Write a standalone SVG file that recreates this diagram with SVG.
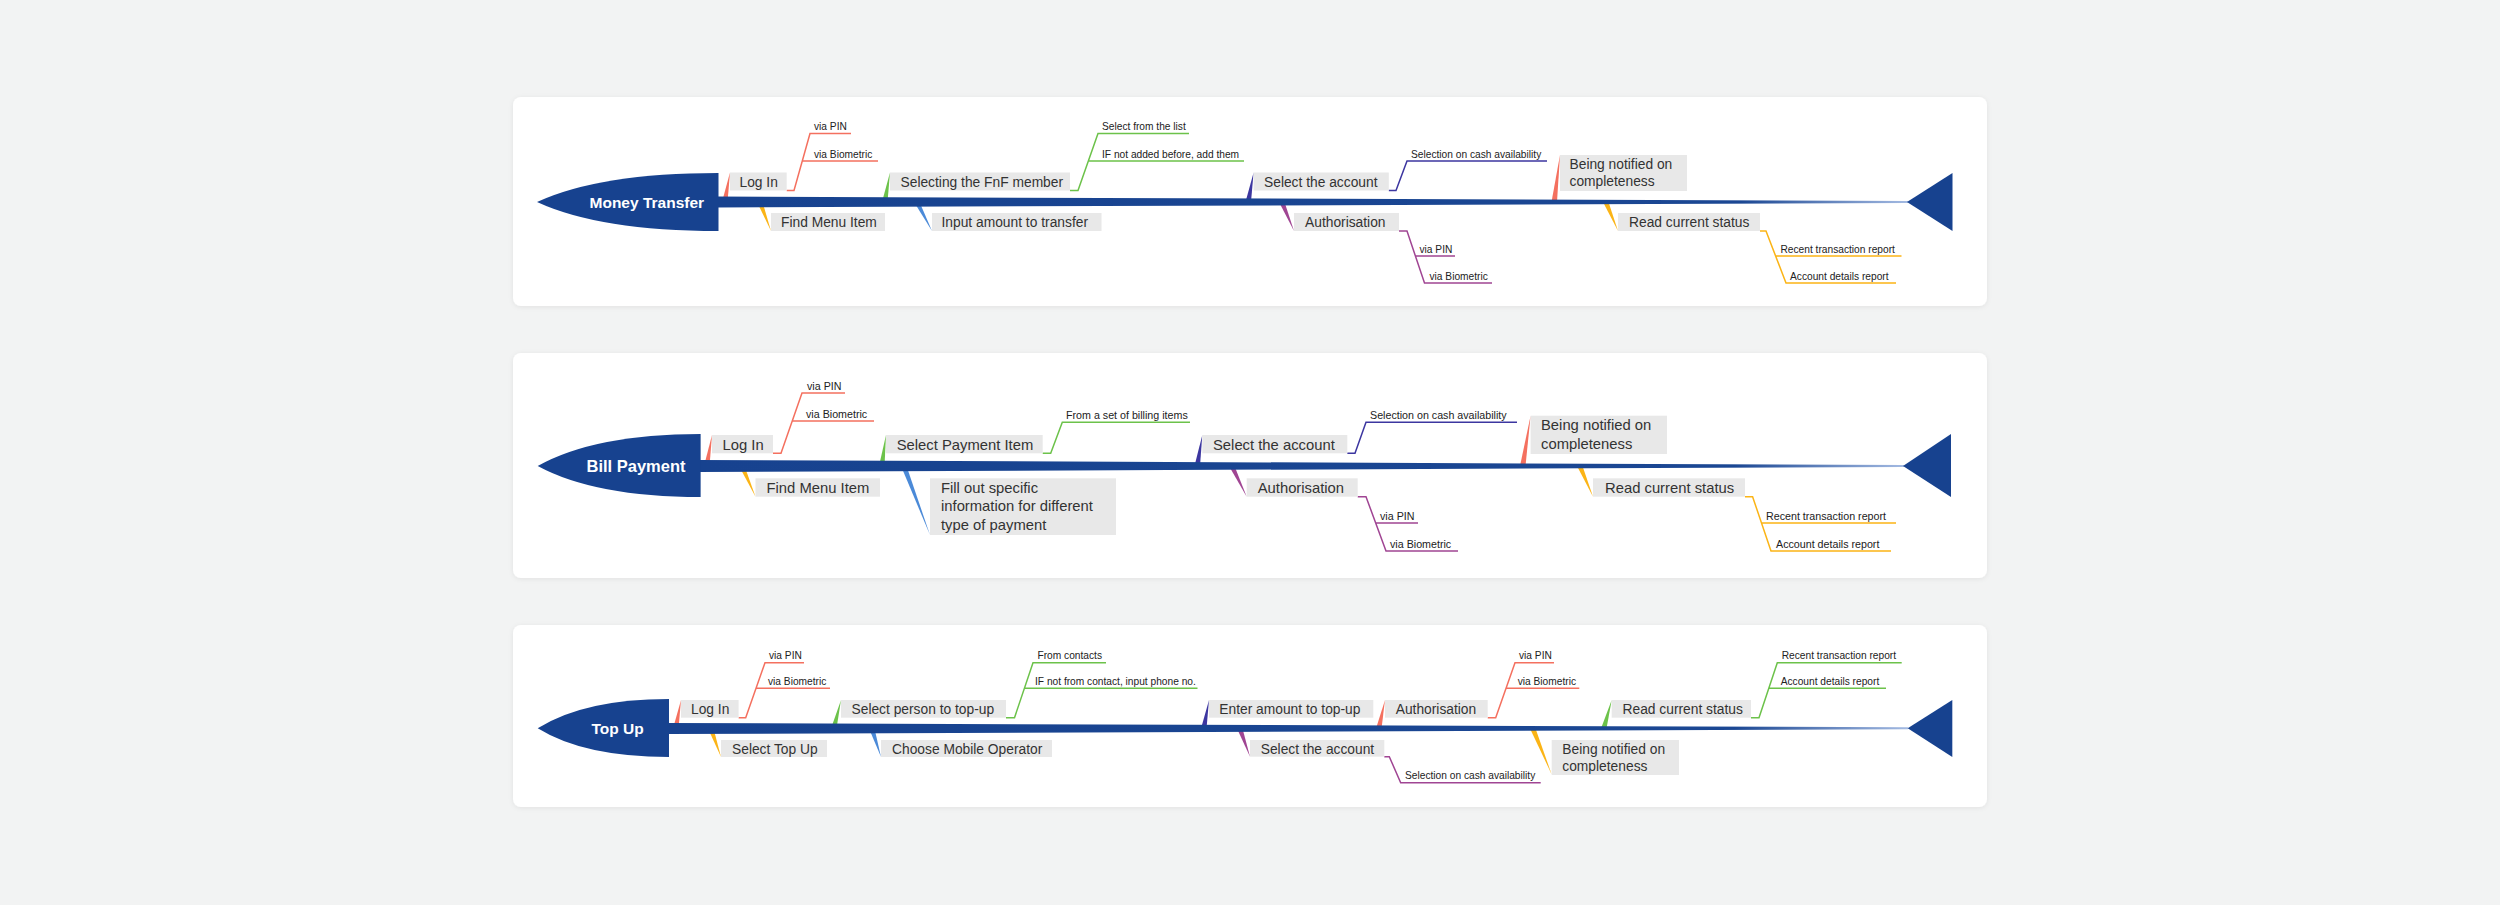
<svg xmlns="http://www.w3.org/2000/svg" width="2500" height="905" viewBox="0 0 2500 905">
<style>
.bg{fill:#f2f3f3}
.card{fill:#ffffff}
.box{fill:#e8e8e8}
.head{fill:#17428f}
.hl{font-family:"Liberation Sans",Arial,sans-serif;font-weight:bold;fill:#ffffff;text-anchor:middle}
.lbl{font-family:"Liberation Sans",Arial,sans-serif;font-size:13.8px;fill:#333333}
.sub{font-family:"Liberation Sans",Arial,sans-serif;font-size:10.2px;fill:#222222}
#card2 .lbl{font-size:14.8px}
#card2 .sub{font-size:10.7px}
.ln{fill:none;stroke-width:1.5;stroke-linejoin:miter}
.sR{stroke:#f4705f}.fR{fill:#f4705f}
.sY{stroke:#fbb416}.fY{fill:#fbb416}
.sG{stroke:#6cc24a}.fG{fill:#6cc24a}
.sB{stroke:#4b8ad8}.fB{fill:#4b8ad8}
.sI{stroke:#3c36a0}.fI{fill:#3c36a0}
.sP{stroke:#a04593}.fP{fill:#a04593}
</style>
<defs>
<linearGradient id="spineGrad" x1="0" y1="0" x2="1" y2="0">
<stop offset="0" stop-color="#17428f"/>
<stop offset="0.86" stop-color="#1b4793"/>
<stop offset="1" stop-color="#a3bae2"/>
</linearGradient>
<filter id="sh" x="-2%" y="-10%" width="104%" height="125%">
<feDropShadow dx="0" dy="1" stdDeviation="2.5" flood-color="#000000" flood-opacity="0.07"/>
</filter>
<clipPath id="clipRT"><rect x="1700" y="640" width="198" height="30"/></clipPath>
</defs>
<rect class="bg" x="0" y="0" width="2500" height="905"/>

<!-- ================= CARD 1 ================= -->
<g id="card1">
<rect class="card" x="513" y="97" width="1474" height="209" rx="8" filter="url(#sh)"/>
<g id="c1-connectors">
<polygon class="fR" points="722,202 727.5,202 730,172.5"/>
<polygon class="fG" points="882,202 887.5,202 890,172.5"/>
<polygon class="fI" points="1245.5,202 1251,202 1253.6,172.5"/>
<polygon class="fR" points="1551.5,202 1557,202 1560,155"/>
<polygon class="fY" points="757,202 762.5,202 771,231"/>
<polygon class="fB" points="914,202 919.5,202 932,231"/>
<polygon class="fP" points="1279,202 1284.5,202 1294,231"/>
<polygon class="fY" points="1603,202 1608.5,202 1618,231"/>
<path class="ln sR" d="M786.7,190.5 H794 L810,133.5 H851 M802.2,161 H878"/>
<path class="ln sG" d="M1070,190.5 H1078 L1098,133.5 H1189 M1088.4,161 H1244"/>
<path class="ln sI" d="M1388.8,190.5 H1396 L1407,161 H1547"/>
<path class="ln sP" d="M1399,231 H1407 L1424.5,283 H1492 M1415.4,256 H1455"/>
<path class="ln sY" d="M1760,231 H1766 L1786,283 H1896 M1775.6,256 H1901.5"/>
</g>
<g id="c1-spine">
<polygon fill="url(#spineGrad)" points="716,196.5 1908,201 1908,203 716,207.5"/>
<polygon class="head" points="1907,202 1952.5,173 1952.5,231"/>
</g>
<g id="c1-head">
<path class="head" d="M537,202 Q600,173 718.5,173 V231 Q600,231 537,202 Z"/>
<text class="hl" x="646.8" y="208" font-size="15.5">Money Transfer</text>
</g>
<g id="c1-login"><rect class="box" x="730" y="172.5" width="56.7" height="18"/><text class="lbl" x="739.5" y="186.5">Log In</text></g>
<g id="c1-login-pin"><text class="sub" x="814" y="130">via PIN</text></g>
<g id="c1-login-bio"><text class="sub" x="814" y="157.5">via Biometric</text></g>
<g id="c1-findmenu"><rect class="box" x="771" y="213" width="114" height="18"/><text class="lbl" x="781" y="227">Find Menu Item</text></g>
<g id="c1-fnf"><rect class="box" x="890" y="172.5" width="180" height="18"/><text class="lbl" x="900.5" y="186.5">Selecting the FnF member</text></g>
<g id="c1-fnf-list"><text class="sub" x="1102" y="130">Select from the list</text></g>
<g id="c1-fnf-add"><text class="sub" x="1102" y="157.5">IF not added before, add them</text></g>
<g id="c1-amount"><rect class="box" x="932" y="213" width="169.5" height="18"/><text class="lbl" x="941.5" y="227">Input amount to transfer</text></g>
<g id="c1-account"><rect class="box" x="1253.6" y="172.5" width="135.2" height="18"/><text class="lbl" x="1264" y="186.5">Select the account</text></g>
<g id="c1-account-cash"><text class="sub" x="1411" y="157.5">Selection on cash availability</text></g>
<g id="c1-auth"><rect class="box" x="1294" y="213" width="105" height="18"/><text class="lbl" x="1305" y="227">Authorisation</text></g>
<g id="c1-auth-pin"><text class="sub" x="1419.5" y="252.5">via PIN</text></g>
<g id="c1-auth-bio"><text class="sub" x="1429.5" y="279.5">via Biometric</text></g>
<g id="c1-notified"><rect class="box" x="1560" y="155" width="127" height="36"/><text class="lbl" x="1569.5" y="168.5">Being notified on</text><text class="lbl" x="1569.5" y="186">completeness</text></g>
<g id="c1-status"><rect class="box" x="1618" y="213" width="142" height="18"/><text class="lbl" x="1629" y="227">Read current status</text></g>
<g id="c1-status-recent"><text class="sub" x="1780.5" y="252.5">Recent transaction report</text></g>
<g id="c1-status-account"><text class="sub" x="1790" y="279.5">Account details report</text></g>
</g>

<!-- ================= CARD 2 ================= -->
<g id="card2">
<rect class="card" x="513" y="353" width="1474" height="225" rx="8" filter="url(#sh)"/>
<g id="c2-connectors">
<polygon class="fR" points="704,466 709.5,466 712,435"/>
<polygon class="fG" points="879,466 884.5,466 886,435"/>
<polygon class="fI" points="1194.5,466 1200,466 1202.3,435"/>
<polygon class="fR" points="1520,466 1525.5,466 1530.6,415.7"/>
<polygon class="fY" points="739,466 744.5,466 755.5,496.7"/>
<polygon class="fB" points="901,466 906.5,466 930,535"/>
<polygon class="fP" points="1229,466 1234.5,466 1246.7,496.7"/>
<polygon class="fY" points="1577,466 1582.5,466 1593,496.7"/>
<path class="ln sR" d="M773,453.3 H781 L802,393 H845 M792.3,421 H874"/>
<path class="ln sG" d="M1042.7,453.3 H1050.7 L1062.3,422.3 H1190"/>
<path class="ln sI" d="M1347.3,453.3 H1355 L1366,422.3 H1517"/>
<path class="ln sP" d="M1357.7,496.7 H1366 L1386,551 H1458 M1375.7,523 H1418"/>
<path class="ln sY" d="M1745,496.7 H1752.6 L1771,551 H1891 M1761.5,523 H1896"/>
</g>
<g id="c2-spine">
<polygon fill="url(#spineGrad)" points="698,460 1904,465 1904,467 698,472"/>
<polygon class="head" points="1903,466 1951,434 1951,497"/>
</g>
<g id="c2-head">
<path class="head" d="M537.7,466 Q595,434 700.6,434 V497 Q595,497 537.7,466 Z"/>
<text class="hl" x="636" y="472" font-size="16.5">Bill Payment</text>
</g>
<g id="c2-login"><rect class="box" x="712" y="435" width="61" height="18.3"/><text class="lbl" x="722.5" y="450">Log In</text></g>
<g id="c2-login-pin"><text class="sub" x="807" y="389.5">via PIN</text></g>
<g id="c2-login-bio"><text class="sub" x="806" y="417.5">via Biometric</text></g>
<g id="c2-findmenu"><rect class="box" x="755.5" y="478.3" width="124.5" height="18.4"/><text class="lbl" x="766.5" y="493.3">Find Menu Item</text></g>
<g id="c2-payitem"><rect class="box" x="886" y="435" width="156.7" height="18.3"/><text class="lbl" x="896.7" y="450">Select Payment Item</text></g>
<g id="c2-payitem-billing"><text class="sub" x="1066" y="418.8">From a set of billing items</text></g>
<g id="c2-fillout"><rect class="box" x="930" y="478.3" width="186" height="56.7"/><text class="lbl" x="941" y="492.5">Fill out specific</text><text class="lbl" x="941" y="511">information for different</text><text class="lbl" x="941" y="529.5">type of payment</text></g>
<g id="c2-account"><rect class="box" x="1202.3" y="435" width="145" height="18.3"/><text class="lbl" x="1213" y="450">Select the account</text></g>
<g id="c2-account-cash"><text class="sub" x="1370" y="418.8">Selection on cash availability</text></g>
<g id="c2-auth"><rect class="box" x="1246.7" y="478.3" width="111" height="18.4"/><text class="lbl" x="1257.7" y="493.3">Authorisation</text></g>
<g id="c2-auth-pin"><text class="sub" x="1380" y="519.5">via PIN</text></g>
<g id="c2-auth-bio"><text class="sub" x="1390" y="547.5">via Biometric</text></g>
<g id="c2-notified"><rect class="box" x="1530.6" y="415.7" width="136.4" height="38.3"/><text class="lbl" x="1541" y="430">Being notified on</text><text class="lbl" x="1541" y="448.5">completeness</text></g>
<g id="c2-status"><rect class="box" x="1593" y="478.3" width="152" height="18.4"/><text class="lbl" x="1605" y="493.3">Read current status</text></g>
<g id="c2-status-recent"><text class="sub" x="1766" y="519.5">Recent transaction report</text></g>
<g id="c2-status-account"><text class="sub" x="1776" y="547.5">Account details report</text></g>
</g>

<!-- ================= CARD 3 ================= -->
<g id="card3">
<rect class="card" x="513" y="625" width="1474" height="182" rx="8" filter="url(#sh)"/>
<g id="c3-connectors">
<polygon class="fR" points="673,728.5 678.5,728.5 681,700"/>
<polygon class="fG" points="831,728.5 836.5,728.5 841,700"/>
<polygon class="fI" points="1201,728.5 1206.5,728.5 1209,700"/>
<polygon class="fR" points="1376,728.5 1381.5,728.5 1385,700"/>
<polygon class="fG" points="1601,728.5 1606.5,728.5 1611.7,700"/>
<polygon class="fY" points="708,728.5 713.5,728.5 721,757"/>
<polygon class="fB" points="869,728.5 874.5,728.5 881,757"/>
<polygon class="fP" points="1237,728.5 1242.5,728.5 1250,756.7"/>
<polygon class="fY" points="1530,728.5 1535.5,728.5 1551.7,774.5"/>
<path class="ln sR" d="M738.6,717.7 H745.7 L765,662.7 H804 M756,688.3 H830"/>
<path class="ln sG" d="M1006,717.7 H1014.5 L1033,662.7 H1106 M1024.4,688.3 H1197.5"/>
<path class="ln sR" d="M1487.7,717.7 H1495.7 L1515,662.7 H1554 M1506.2,688.3 H1579.3"/>
<path class="ln sG" d="M1751,717.7 H1759 L1777.3,662.7 H1901.7 M1768.8,688.3 H1886"/>
<path class="ln sP" d="M1384.3,756.7 H1389.3 L1400.7,782.7 H1540.7"/>
</g>
<g id="c3-spine">
<polygon fill="url(#spineGrad)" points="667,723 1908,727.3 1908,729.3 667,734"/>
<polygon class="head" points="1907.7,728.3 1952.3,700 1952.3,757"/>
</g>
<g id="c3-head">
<path class="head" d="M537.7,728.3 Q584,699 669,699 V757 Q584,757 537.7,728.3 Z"/>
<text class="hl" x="617.5" y="734" font-size="15.5">Top Up</text>
</g>
<g id="c3-login"><rect class="box" x="681" y="700" width="57.6" height="17.7"/><text class="lbl" x="691" y="714">Log In</text></g>
<g id="c3-login-pin"><text class="sub" x="769" y="659.2">via PIN</text></g>
<g id="c3-login-bio"><text class="sub" x="768" y="684.8">via Biometric</text></g>
<g id="c3-selecttopup"><rect class="box" x="721" y="740" width="106" height="17"/><text class="lbl" x="732" y="754">Select Top Up</text></g>
<g id="c3-person"><rect class="box" x="841" y="700" width="165" height="17.7"/><text class="lbl" x="851.5" y="714">Select person to top-up</text></g>
<g id="c3-person-contacts"><text class="sub" x="1037.5" y="659.2">From contacts</text></g>
<g id="c3-person-phone"><text class="sub" x="1035" y="684.8">IF not from contact, input phone no.</text></g>
<g id="c3-operator"><rect class="box" x="881" y="740" width="171" height="17"/><text class="lbl" x="892" y="754">Choose Mobile Operator</text></g>
<g id="c3-amount"><rect class="box" x="1209" y="700" width="164.3" height="17.7"/><text class="lbl" x="1219.3" y="714">Enter amount to top-up</text></g>
<g id="c3-account"><rect class="box" x="1250" y="740" width="134.3" height="16.7"/><text class="lbl" x="1260.7" y="754">Select the account</text></g>
<g id="c3-account-cash"><text class="sub" x="1405" y="779.2">Selection on cash availability</text></g>
<g id="c3-auth"><rect class="box" x="1385" y="700" width="102.7" height="17.7"/><text class="lbl" x="1395.7" y="714">Authorisation</text></g>
<g id="c3-auth-pin"><text class="sub" x="1519" y="659.2">via PIN</text></g>
<g id="c3-auth-bio"><text class="sub" x="1517.7" y="684.8">via Biometric</text></g>
<g id="c3-notified"><rect class="box" x="1551.7" y="740" width="127.3" height="35"/><text class="lbl" x="1562.3" y="753.5">Being notified on</text><text class="lbl" x="1562.3" y="771">completeness</text></g>
<g id="c3-status"><rect class="box" x="1611.7" y="700" width="139.3" height="17.7"/><text class="lbl" x="1622.5" y="714">Read current status</text></g>
<g id="c3-status-recent"><text class="sub" x="1781.7" y="659.2" clip-path="url(#clipRT)">Recent transaction report</text></g>
<g id="c3-status-account"><text class="sub" x="1780.7" y="684.8">Account details report</text></g>
</g>
</svg>
